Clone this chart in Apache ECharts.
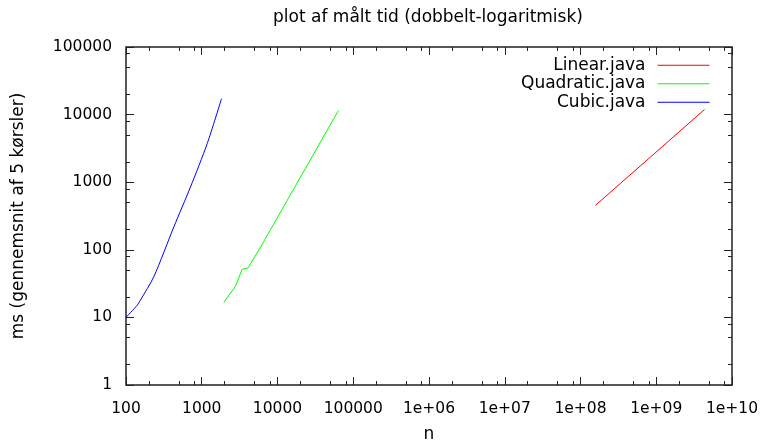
<!DOCTYPE html>
<html>
<head>
<meta charset="utf-8">
<script src="https://cdn.jsdelivr.net/npm/echarts@6/dist/echarts.min.js"></script>
<style>html,body{margin:0;padding:0;background:#fff}#c{width:763px;height:440px}</style>
</head>
<body>
<div id="c"></div>
<script>
// ---- data ----
const seriesNames = ['Linear.java', 'Quadratic.java', 'Cubic.java'];
const linearN = [1.58e8, 8.4e8, 4.34e9];
const linearMs = [456, 2360, 11900];
const quadN = [1954, 2792, 3420, 4100, 5660, 63800];
const quadMs = [16.7, 29, 51.7, 54, 98.6, 11500];
const cubicN = [100, 141, 155, 233, 428, 710, 1180, 1823];
const cubicMs = [10, 15.2, 18, 40, 218, 849, 3717, 17180];

const xMajor = [100, 1e3, 1e4, 1e5, 1e6, 1e7, 1e8, 1e9, 1e10];
const xLabels = ['100', '1000', '10000', '100000', '1e+06', '1e+07', '1e+08', '1e+09', '1e+10'];
const yMajor = [1, 10, 100, 1000, 10000, 100000];
const yLabels = ['1', '10', '100', '1000', '10000', '100000'];
const minorMult = [2, 5, 8];

const xMinor = [];
xMajor.slice(0, -1).forEach(v => minorMult.forEach(m => xMinor.push(v * m)));
const yMinor = [];
yMajor.slice(0, -1).forEach(v => minorMult.forEach(m => yMinor.push(v * m)));

const pairs = (a, b) => a.map((v, i) => [v, b[i]]);
const FONT = 'DejaVu Sans';
const TICKFS = 15.5;
const FS = 17;

function findLabel(list, labels, v) {
  const i = list.findIndex(m => Math.abs(Math.log10(m) - Math.log10(v)) < 1e-6);
  return i >= 0 ? labels[i] : '';
}

function axisX(position, major, showLabel) {
  return {
    type: 'log', logBase: 10, min: 100, max: 1e10, position: position,
    axisLine: { show: false }, splitLine: { show: false },
    axisTick: { show: true, inside: true, length: major ? 8 : 4,
      lineStyle: { color: '#222', width: 1 },
      customValues: major ? xMajor : xMinor },
    axisLabel: { show: showLabel, margin: 16, color: '#000', fontFamily: FONT, fontSize: TICKFS,
      customValues: xMajor, formatter: v => findLabel(xMajor, xLabels, v) },
    name: showLabel ? 'n' : '', nameLocation: 'middle', nameGap: 41,
    nameTextStyle: { color: '#000', fontFamily: FONT, fontSize: FS }
  };
}
function axisY(position, major, showLabel) {
  return {
    type: 'log', logBase: 10, min: 1, max: 100000, position: position,
    axisLine: { show: false }, splitLine: { show: false },
    axisTick: { show: true, inside: true, length: major ? 8 : 4,
      lineStyle: { color: '#222', width: 1 },
      customValues: major ? yMajor : yMinor },
    axisLabel: { show: showLabel, margin: 14, color: '#000', fontFamily: FONT, fontSize: TICKFS,
      customValues: yMajor, formatter: v => findLabel(yMajor, yLabels, v) },
    name: showLabel ? 'ms (gennemsnit af 5 kørsler)' : '', nameLocation: 'middle', nameGap: 99,
    nameTextStyle: { color: '#000', fontFamily: FONT, fontSize: FS }
  };
}

const chart = echarts.init(document.getElementById('c'), null, { renderer: 'canvas' });
const colors = ['#ff0000', '#00ff00', '#0000ff'];
const datas = [pairs(linearN, linearMs), pairs(quadN, quadMs), pairs(cubicN, cubicMs)];

chart.setOption({
  animation: false,
  backgroundColor: '#fff',
  title: {
    text: 'plot af målt tid (dobbelt-logaritmisk)',
    left: 428, top: 9.5, padding: 0, textAlign: 'center',
    textStyle: { color: '#000', fontFamily: FONT, fontSize: FS, fontWeight: 'normal' }
  },
  grid: { left: 126, right: 31, top: 47, bottom: 55, show: true, outerBoundsMode: 'none',
    borderColor: '#222', borderWidth: 1.5, backgroundColor: 'transparent', containLabel: false },
  legend: {
    orient: 'vertical', left: 521, top: 56.75, padding: 0, itemGap: 1.5,
    itemWidth: 52, itemHeight: 14, align: 'right',
    itemStyle: { opacity: 0 },
    lineStyle: { width: 1 },
    data: seriesNames,
    formatter: '{a|{name}}',
    textStyle: { color: '#000', fontFamily: FONT, fontSize: FS,
      rich: { a: { width: 130, align: 'right', padding: [0, 7, 0, 0],
        fontFamily: FONT, fontSize: FS, color: '#000' } } }
  },
  xAxis: [axisX('bottom', true, true), axisX('bottom', false, false), axisX('top', true, false), axisX('top', false, false)],
  yAxis: [axisY('left', true, true), axisY('left', false, false), axisY('right', true, false), axisY('right', false, false)],
  series: seriesNames.map((name, i) => ({
    name: name, type: 'line', data: datas[i], xAxisIndex: 0, yAxisIndex: 0,
    symbol: 'none', showSymbol: false, smooth: i === 2 ? 0.25 : false,
    lineStyle: { color: colors[i], width: 1 }, itemStyle: { color: colors[i] }
  }))
});
</script>
</body>
</html>
